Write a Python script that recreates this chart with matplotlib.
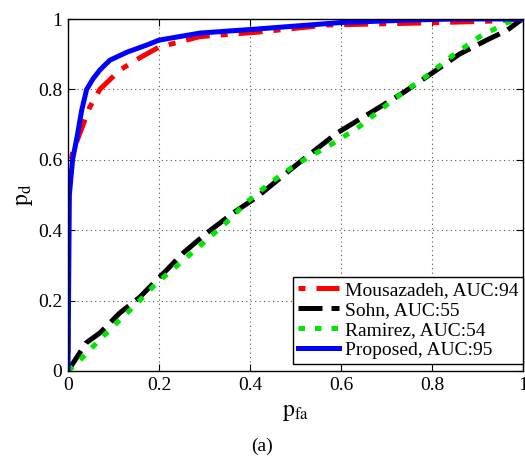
import matplotlib
matplotlib.use("Agg")
import matplotlib.pyplot as plt

plt.rcParams['font.family'] = ['Liberation Serif', 'DejaVu Serif']
plt.rcParams['mathtext.fontset'] = 'stix'

# Data
mous_x = [0.0, 0.0, 0.0, 0.01, 0.026, 0.048, 0.07, 0.114, 0.158, 0.2, 0.29, 0.42, 0.57, 0.79, 0.93, 1.0]
mous_y = [0.0, 0.45, 0.54, 0.62, 0.675, 0.75, 0.80, 0.855, 0.89, 0.92, 0.95, 0.963, 0.983, 0.989, 0.994, 1.0]

sohn_x = [0.0, 0.02, 0.04, 0.07, 0.114, 0.158, 0.18, 0.217, 0.253, 0.305, 0.363, 0.415, 0.488,
          0.516, 0.59, 0.664, 0.736, 0.81, 0.86, 0.92, 0.965, 0.99, 1.0]
sohn_y = [0.0, 0.04, 0.08, 0.108, 0.165, 0.21, 0.239, 0.287, 0.335, 0.392, 0.449, 0.494, 0.571,
          0.60, 0.675, 0.733, 0.79, 0.855, 0.90, 0.94, 0.968, 0.992, 1.0]

ram_x = [0.0, 0.02, 0.063, 0.107, 0.15, 0.195, 0.246, 0.297, 0.349, 0.393, 0.444, 0.499,
         0.583, 0.64, 0.714, 0.79, 0.846, 0.905, 0.965, 1.0]
ram_y = [0.0, 0.022, 0.08, 0.136, 0.19, 0.25, 0.306, 0.363, 0.423, 0.48, 0.534, 0.585,
         0.647, 0.694, 0.77, 0.84, 0.897, 0.95, 0.99, 1.0]

prop_x = [0.0, 0.003, 0.01, 0.02, 0.03, 0.041, 0.055, 0.07, 0.092, 0.13, 0.173, 0.2, 0.29, 0.42, 0.6, 0.75, 0.85, 1.0]
prop_y = [0.0, 0.5, 0.6, 0.665, 0.74, 0.80, 0.83, 0.855, 0.883, 0.906, 0.926, 0.94, 0.96, 0.972, 0.99, 0.997, 1.0, 1.0]

labels = ['Mousazadeh, AUC:94', 'Sohn, AUC:55', 'Ramirez, AUC:54', 'Proposed, AUC:95']
xticks = [0, 0.2, 0.4, 0.6, 0.8, 1]
yticks = [0, 0.2, 0.4, 0.6, 0.8, 1]
tick_labels = ['0', '0.2', '0.4', '0.6', '0.8', '1']

fig = plt.figure(figsize=(5.25, 4.58), dpi=100)
ax = fig.add_axes([0.1295, 0.19, 0.8667, 0.7685])

lw = 3.6
ax.plot(mous_x, mous_y, color='#ff0000', lw=lw, dashes=(1.4, 2.2, 4.8, 2.2), dash_capstyle='butt', label=labels[0])
ax.plot(sohn_x, sohn_y, color='black', lw=lw, dashes=(4.8, 1.8), dash_capstyle='butt', label=labels[1])
ax.plot(ram_x, ram_y, color='#00e600', lw=lw, dashes=(1.3, 2.0), dash_capstyle='butt', label=labels[2])
ax.plot(prop_x, prop_y, color='#0000ff', lw=lw, label=labels[3])

ax.set_xlim(0, 1)
ax.set_ylim(0, 1)
ax.set_xticks(xticks)
ax.set_yticks(yticks)
ax.set_xticklabels(tick_labels)
ax.set_yticklabels(tick_labels)
ax.tick_params(direction='in', length=5, width=0.8, labelsize=14, top=True, right=True, pad=4)
ax.grid(True, linestyle=(0, (1, 3)), color='#555555', linewidth=0.8)
for s in ax.spines.values():
    s.set_linewidth(1.0)

ax.set_xlabel(r'$\mathrm{p}_{\mathrm{fa}}$', fontsize=17, labelpad=6)
ax.set_ylabel(r'$\mathrm{p}_{\mathrm{d}}$', fontsize=17, labelpad=2)

leg = ax.legend(loc='lower right', bbox_to_anchor=(1.0, 0.02), fontsize=14, frameon=True, fancybox=False,
                edgecolor='black', framealpha=1, handlelength=2.1, handletextpad=0.3,
                borderpad=0.25, labelspacing=0.12, borderaxespad=0.0)
leg.get_frame().set_linewidth(1.0)

fig.text(0.499, 1 - 446 / 458, '(a)', ha='center', va='center', fontsize=14)

fig.savefig('out.png', dpi=100)
